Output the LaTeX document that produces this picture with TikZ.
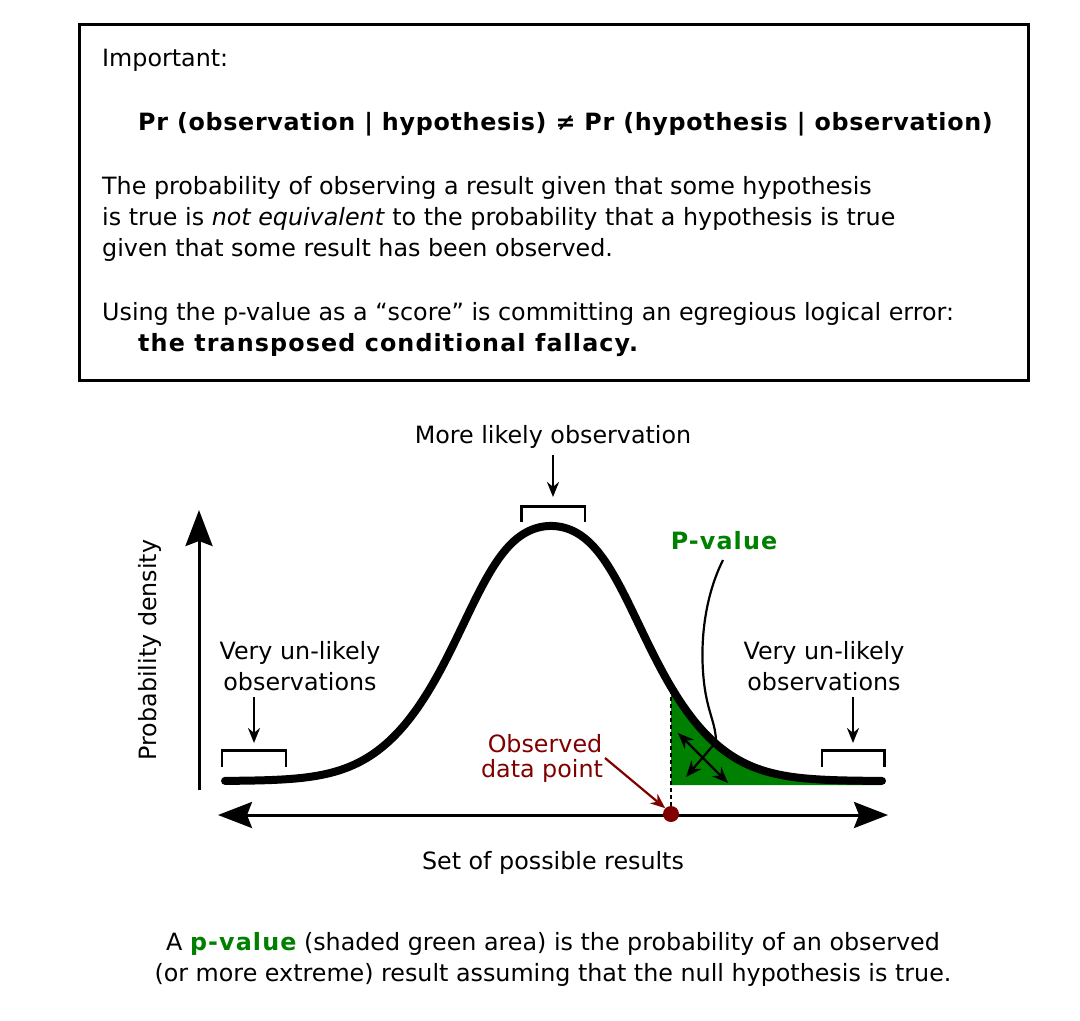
\documentclass[tikz,border=0pt]{standalone}
\usepackage{fontspec}
\setmainfont{DejaVu Sans}
\usetikzlibrary{arrows.meta}
\definecolor{pgreen}{RGB}{0,128,0}
\definecolor{dred}{RGB}{128,0,0}
\begin{document}
\begin{tikzpicture}[x=1pt,y=-1pt,
  declare function={sg(\d)=84+30*exp(-(\d/65)*(\d/65));
                    gc(\x)=781-255*exp(-0.5*((\x-551)/sg(\x-551))*((\x-551)/sg(\x-551)));},
  txt/.style={inner sep=0pt, font=\fontsize{23.8}{31}\selectfont},
  btxt/.style={inner sep=0pt, font=\fontsize{23.8}{31}\selectfont\bfseries\addfontfeature{LetterSpace=4.7}},
  bigtip/.style={line width=3pt},
  ptr/.style={line width=2.4pt, -{Stealth[length=15pt,width=12pt]}},
  brk/.style={line width=2.2pt},
  fatcurve/.style={line width=8pt, line cap=round}]
\useasboundingbox (0,0) rectangle (1080,1021);
% ---- box
\draw[line width=3pt] (79,24) rectangle (1028,380);
\node[txt, anchor=base west] (imp) at (102,66) {Important:};
\node[inner sep=0pt, font=\fontsize{23.8}{31}\selectfont\bfseries\addfontfeature{LetterSpace=2.9}, anchor=base west] (pr) at (138,130) {Pr (observation | hypothesis) ≠ Pr (hypothesis | observation)};
\node[txt, anchor=base west] (p1) at (102,194) {The probability of observing a result given that some hypothesis};
\node[txt, anchor=base west] (p2) at (102,225) {is true is \textit{not equivalent} to the probability that a hypothesis is true};
\node[txt, anchor=base west] (p3) at (102,256) {given that some result has been observed.};
\node[txt, anchor=base west] (u1) at (102,320) {Using the p-value as a “score” is committing an egregious logical error:};
\node[btxt, anchor=base west] (u2) at (138,351) {the transposed conditional fallacy.};
% ---- chart
\fill[pgreen] (671,785) -- plot[domain=671:882, samples=120] (\x, {gc(\x)}) -- (882,785) -- cycle;
\draw[fatcurve] plot[domain=225:882, samples=260] (\x, {gc(\x)});
% axes
\coordinate (xl) at (218,815);
\coordinate (xr) at (888,815);
\coordinate (yb) at (199,790);
\coordinate (yt) at (199,510);
\draw[bigtip, {Stealth[length=34pt,width=26pt,inset=5pt]}-{Stealth[length=34pt,width=26pt,inset=5pt]}] (xl) -- (xr);
\draw[bigtip, -{Stealth[length=36pt,width=27pt,inset=5pt]}] (yb) -- (yt);
\node[txt, rotate=90] (ylab) at (150,650) {Probability density};
\node[txt, anchor=base] (xlab) at (553,869) {Set of possible results};
% more likely
\node[txt, anchor=base] (more) at (553,443) {More likely observation};
\coordinate (ma) at (553,455);
\coordinate (mb) at (553,497);
\draw[ptr] (ma) -- (mb);
\draw[brk] (521.5,522) -- (521.5,506.5) -- (585,506.5) -- (585,522);
% left unlikely
\node[txt, anchor=base] (l1) at (300,659) {Very un-likely};
\node[txt, anchor=base] (l2) at (300,690) {observations};
\coordinate (la) at (254,697);
\coordinate (lb) at (254,743);
\draw[ptr] (la) -- (lb);
\draw[brk] (222,767) -- (222,750.5) -- (286,750.5) -- (286,767);
% right unlikely
\node[txt, anchor=base] (r1) at (824,659) {Very un-likely};
\node[txt, anchor=base] (r2) at (824,690) {observations};
\coordinate (ra) at (853,697);
\coordinate (rb) at (853,743);
\draw[ptr] (ra) -- (rb);
\draw[brk] (822,767) -- (822,750.5) -- (884.5,750.5) -- (884.5,767);
% p-value label and pointer
\node[btxt, text=pgreen, anchor=base] (pv) at (724,549) {P-value};
\coordinate (pva) at (723,560);
\coordinate (pvb) at (716,742);
\coordinate (pvc) at (686,777);
\draw[line width=2.2pt, -{Stealth[length=16pt,width=13pt]}] (pva) .. controls (703,600) and (699,650) .. (705,690) .. controls (709,715) and (716,725) .. (pvb) -- (pvc);
\coordinate (da) at (678,733);
\coordinate (db) at (728,783);
\draw[line width=2.2pt, {Stealth[length=16pt,width=13pt]}-{Stealth[length=16pt,width=13pt]}] (da) -- (db);
% observed data point
\node[circle, fill=dred, minimum size=16pt, inner sep=0pt] (dot) at (671,814) {};
\coordinate (dtop) at (671,692);
\draw[line width=2pt, dash pattern=on 4pt off 3pt] (dot.north) -- (dtop);
\node[txt, text=dred, anchor=base] (o1) at (545,752) {Observed};
\node[txt, text=dred, anchor=base] (o2) at (542,777) {data point};
\coordinate (oa) at (605,758);
\draw[line width=2.2pt, dred, -{Stealth[length=15pt,width=12pt]}] (oa) -- (dot.north west);
% caption
\node[txt, anchor=base] (c1) at (553,950) {A {\bfseries\addfontfeature{LetterSpace=4.7}\color{pgreen}p-value} (shaded green area) is the probability of an observed};
\node[txt, anchor=base] (c2) at (553,981) {(or more extreme) result assuming that the null hypothesis is true.};
\end{tikzpicture}
\end{document}
